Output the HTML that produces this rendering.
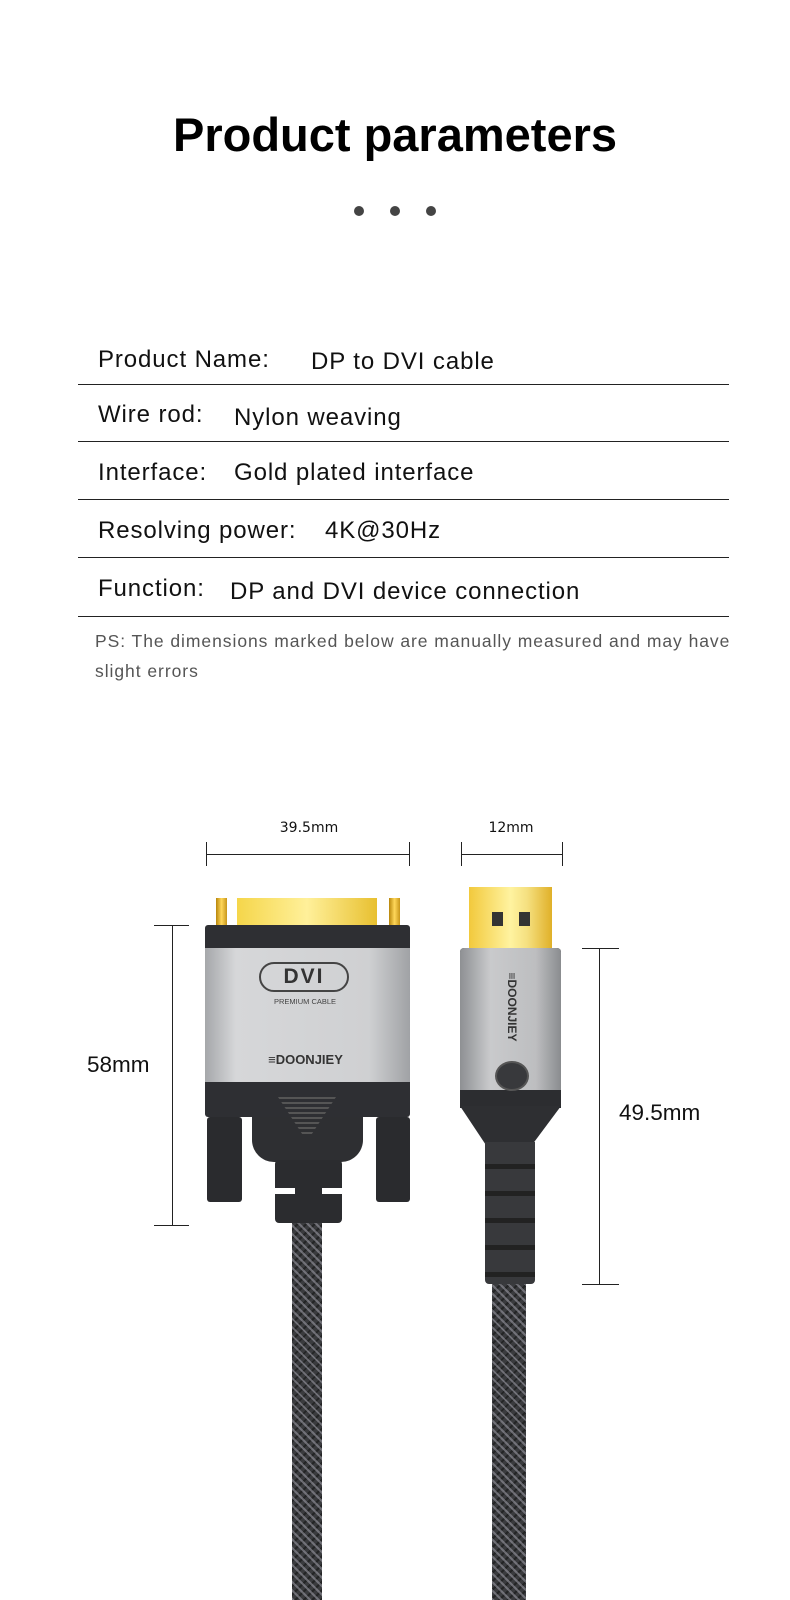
<!DOCTYPE html>
<html><head><meta charset="utf-8"><style>
*{margin:0;padding:0;box-sizing:border-box}
body{width:790px;height:1600px;background:#fff;position:relative;overflow:hidden;font-family:"Liberation Sans",sans-serif;color:#111}
.a{position:absolute}
.t{font-size:24px;white-space:nowrap;letter-spacing:0.9px}
.hl{position:absolute;left:78px;width:651px;height:1px;background:#222}
.dot{position:absolute;width:10px;height:10px;border-radius:50%;background:#444;top:206px}
.braid{background-color:#3a3b3e;background-image:repeating-linear-gradient(45deg,rgba(160,160,170,.55) 0 2px,transparent 2px 6px),repeating-linear-gradient(-45deg,rgba(20,20,20,.6) 0 2px,transparent 2px 6px)}
.ln{position:absolute;background:#222}
</style></head><body>
<div class="a" style="left:0;width:790px;top:107px;text-align:center;font-size:47px;font-weight:bold;color:#000">Product parameters</div>
<div class="dot" style="left:354px"></div><div class="dot" style="left:390px"></div><div class="dot" style="left:426px"></div>

<div class="a t" style="left:98px;top:346px">Product Name:</div><div class="a t" style="left:311px;top:348px">DP to DVI cable</div>
<div class="hl" style="top:384px"></div>
<div class="a t" style="left:98px;top:401px">Wire rod:</div><div class="a t" style="left:234px;top:404px">Nylon weaving</div>
<div class="hl" style="top:441px"></div>
<div class="a t" style="left:98px;top:459px">Interface:</div><div class="a t" style="left:234px;top:459px">Gold plated interface</div>
<div class="hl" style="top:499px"></div>
<div class="a t" style="left:98px;top:517px">Resolving power:</div><div class="a t" style="left:325px;top:517px">4K@30Hz</div>
<div class="hl" style="top:557px"></div>
<div class="a t" style="left:98px;top:575px">Function:</div><div class="a t" style="left:230px;top:578px">DP and DVI device connection</div>
<div class="hl" style="top:616px"></div>
<div class="a" style="left:95px;top:631px;font-size:17.5px;letter-spacing:0.95px;color:#555;white-space:nowrap">PS: The dimensions marked below are manually measured and may have</div>
<div class="a" style="left:95px;top:661px;font-size:17.5px;letter-spacing:0.95px;color:#555">slight errors</div>

<!-- dimensions -->
<div class="a" style="left:259px;width:100px;top:820px;text-align:center;font-size:14px;font-family:'DejaVu Sans',sans-serif">39.5mm</div>
<div class="ln" style="left:206px;width:203px;top:854px;height:1px"></div>
<div class="ln" style="left:206px;width:1px;top:842px;height:24px"></div>
<div class="ln" style="left:409px;width:1px;top:842px;height:24px"></div>
<div class="a" style="left:471px;width:80px;top:820px;text-align:center;font-size:14px;font-family:'DejaVu Sans',sans-serif">12mm</div>
<div class="ln" style="left:461px;width:101px;top:854px;height:1px"></div>
<div class="ln" style="left:461px;width:1px;top:842px;height:24px"></div>
<div class="ln" style="left:562px;width:1px;top:842px;height:24px"></div>

<div class="ln" style="left:172px;width:1px;top:925px;height:300px"></div>
<div class="ln" style="left:154px;width:35px;top:925px;height:1px"></div>
<div class="ln" style="left:154px;width:35px;top:1225px;height:1px"></div>
<div class="a" style="left:87px;top:1052px;font-size:22.5px">58mm</div>
<div class="ln" style="left:599px;width:1px;top:948px;height:336px"></div>
<div class="ln" style="left:582px;width:37px;top:948px;height:1px"></div>
<div class="ln" style="left:582px;width:37px;top:1284px;height:1px"></div>
<div class="a" style="left:619px;top:1100px;font-size:22.5px">49.5mm</div>

<!-- DVI connector -->
<div class="a braid" style="left:292px;width:30px;top:1215px;height:385px"></div>
<div class="a" style="left:216px;width:11px;top:898px;height:28px;background:linear-gradient(90deg,#b8860b,#ffd75a,#c8961a)"></div>
<div class="a" style="left:389px;width:11px;top:898px;height:28px;background:linear-gradient(90deg,#b8860b,#ffd75a,#c8961a)"></div>
<div class="a" style="left:237px;width:140px;top:898px;height:28px;background:linear-gradient(90deg,#f5d64a,#fff09a,#e8c030)"></div>
<div class="a" style="left:207px;width:35px;top:1117px;height:85px;background:#2a2b2e;border-radius:3px"></div>
<div class="a" style="left:376px;width:34px;top:1117px;height:85px;background:#2a2b2e;border-radius:3px"></div>
<div class="a" style="left:252px;width:111px;top:1100px;height:62px;background:#2e2f32;border-radius:0 0 22px 22px"></div>
<div class="a" style="left:275px;width:67px;top:1160px;height:63px;background:#2b2c2f;border-radius:4px"></div>
<div class="a" style="left:275px;width:67px;top:1188px;height:6px;background:#fff"></div>
<div class="a" style="left:295px;width:27px;top:1188px;height:6px;background:#2b2c2f"></div>
<div class="a" style="left:205px;width:205px;top:925px;height:192px;background:#2e2f33;border-radius:3px"></div>
<div class="a" style="left:205px;width:205px;top:948px;height:134px;background:linear-gradient(90deg,#a5a7aa,#d6d7d9 15%,#cfd0d2 80%,#a0a2a5)"></div>
<div class="a" style="left:259px;width:90px;top:962px;height:30px;border:2px solid #444;border-radius:15px;text-align:center;font-weight:bold;font-size:21px;line-height:26px;color:#333;letter-spacing:2px">DVI</div>
<div class="a" style="left:250px;width:110px;top:997px;text-align:center;font-size:7.5px;color:#444">PREMIUM CABLE</div>
<div class="a" style="left:258px;width:95px;top:1052px;text-align:center;font-size:13px;font-weight:bold;color:#333">≡DOONJIEY</div>
<div class="a" style="left:278px;width:58px;top:1097px;height:40px;background:repeating-linear-gradient(180deg,#555 0 2px,transparent 2px 5px);clip-path:polygon(0 0,100% 0,55% 100%,45% 100%)"></div>

<!-- DP connector -->
<div class="a braid" style="left:492px;width:34px;top:1270px;height:330px"></div>
<div class="a" style="left:469px;width:83px;top:887px;height:62px;background:linear-gradient(90deg,#f2c93c,#fff3a0 50%,#f5e080 70%,#e0b028)"></div>
<div class="a" style="left:492px;width:11px;top:912px;height:14px;background:#333"></div>
<div class="a" style="left:519px;width:11px;top:912px;height:14px;background:#333"></div>
<div class="a" style="left:460px;width:101px;top:948px;height:160px;background:#2c2d30;border-radius:4px 4px 0 0"></div>
<div class="a" style="left:460px;width:101px;top:948px;height:142px;background:linear-gradient(90deg,#8e9093,#c9cacc 30%,#bdbec0 75%,#8a8c8f);border-radius:4px 4px 0 0"></div>
<div class="a" style="left:460px;width:101px;top:1106px;height:38px;background:#2e2f32;clip-path:polygon(0 0,100% 0,72% 100%,25% 100%)"></div>
<div class="a" style="left:485px;width:50px;top:1142px;height:142px;background:#38393c;border-radius:0 0 4px 4px;background-image:repeating-linear-gradient(180deg,transparent 0 22px,#222 22px 27px)"></div>
<div class="a" style="left:495px;top:1061px;height:30px;width:34px;border-radius:50%;background:#38393c;border:2px solid #555"></div>
<div class="a" style="left:472px;top:1000px;width:80px;text-align:center;font-size:12px;font-weight:bold;color:#333;transform:rotate(90deg)">≡DOONJIEY</div>
</body></html>
